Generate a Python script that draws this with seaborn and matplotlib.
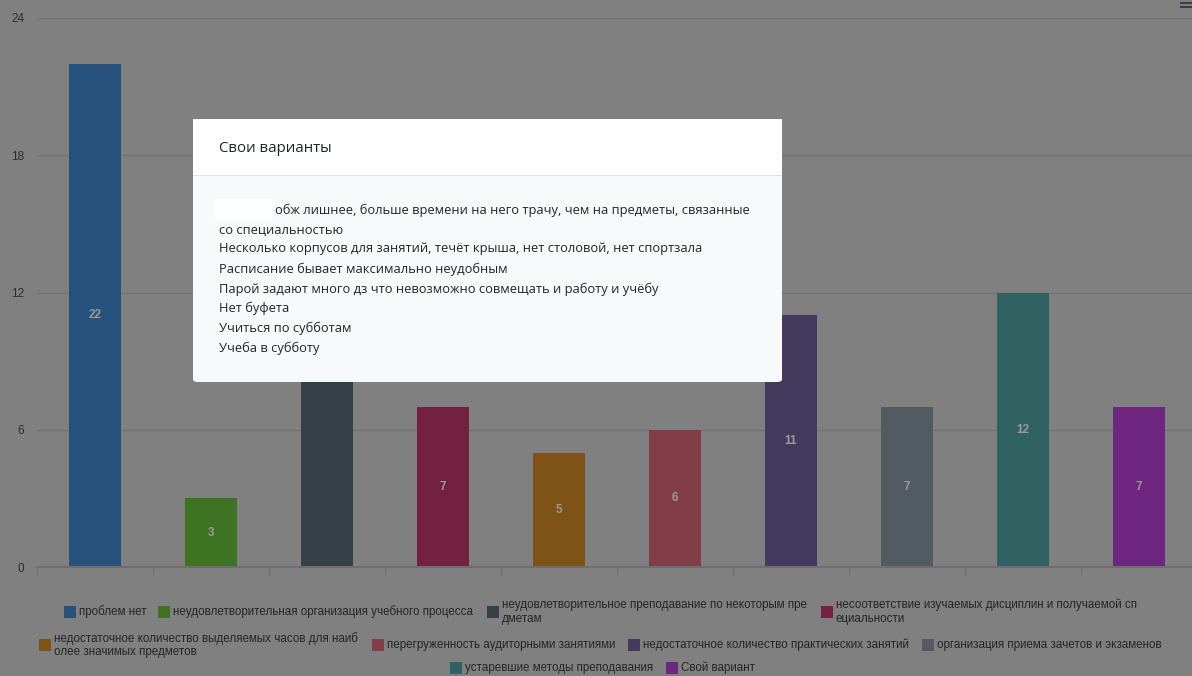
import matplotlib
matplotlib.use("Agg")
import matplotlib.pyplot as plt
import seaborn as sns
import pandas as pd
from matplotlib.patches import Rectangle, FancyBboxPatch

categories = [
    "проблем нет",
    "неудовлетворительная организация учебного процесса",
    "неудовлетворительное преподавание по некоторым пре\nдметам",
    "несоответствие изучаемых дисциплин и получаемой сп\nециальности",
    "недостаточное количество выделяемых часов для наиб\nолее значимых предметов",
    "перегруженность аудиторными занятиями",
    "недостаточное количество практических занятий",
    "организация приема зачетов и экзаменов",
    "устаревшие методы преподавания",
    "Свой вариант",
]
# third value is hidden behind the modal, estimated
counts = [22, 3, 18, 7, 5, 6, 11, 7, 12, 7]
# colours as they look under the dark overlay
colors = ["#27527e", "#3e7324", "#364046", "#74203f", "#7f5216",
          "#813e49", "#433a5e", "#525a62", "#2f6260", "#6f2680"]
yticks = [0, 6, 12, 18, 24]

modal_title = "Свои варианты"
modal_lines = [
    "обж лишнее, больше времени на него трачу, чем на предметы, связанные",
    "со специальностью",
    "Несколько корпусов для занятий, течёт крыша, нет столовой, нет спортзала",
    "Расписание бывает максимально неудобным",
    "Парой задают много дз что невозможно совмещать и работу и учёбу",
    "Нет буфета",
    "Учиться по субботам",
    "Учеба в субботу",
]

W, H = 1192, 676
df = pd.DataFrame({"cat": categories, "n": counts})

fig = plt.figure(figsize=(W / 100, H / 100), dpi=100, facecolor="#808080")
ax = fig.add_axes([36.7 / W, (H - 567) / H, 1160 / W, 549 / H])
ax.set_facecolor("#808080")

sns.barplot(data=df, x="cat", y="n", hue="cat", palette=colors,
            legend=False, width=0.45, ax=ax, saturation=1)
for c in ax.containers:
    ax.bar_label(c, label_type="center", color="#9a9a9a",
                 fontsize=8.5, fontweight="bold", family="Liberation Sans")

ax.set_ylim(0, 24)
ax.set_xlim(-0.5, len(categories) - 0.5)
ax.set_yticks(yticks)
ax.set_yticklabels([str(t) for t in yticks], family="Liberation Sans",
                   fontsize=8.5, color="#2e2e2e")
ax.tick_params(axis="y", length=0, pad=9)
ax.grid(axis="y", color="#737373", linewidth=1)
ax.set_axisbelow(True)
ax.set_xticks([i - 0.5 for i in range(len(categories) + 1)])
ax.set_xticklabels([])
ax.tick_params(axis="x", length=6, color="#737373", width=1)
ax.set_xlabel("")
ax.set_ylabel("")
for s in ["top", "right", "left"]:
    ax.spines[s].set_visible(False)
ax.spines["bottom"].set_color("#6e6e6e")
ax.spines["bottom"].set_linewidth(1.5)

# legend laid out by hand, in pixel coordinates
legend_pos = [(64, 612), (158, 612), (487, 612), (821, 612),
              (39, 645), (372, 645), (628, 645), (922, 645),
              (450, 668), (666, 668)]
for (px, py), lab, col in zip(legend_pos, categories, colors):
    fig.patches.append(Rectangle((px / W, 1 - (py + 6) / H), 12 / W, 12 / H,
                                 transform=fig.transFigure, facecolor=col,
                                 edgecolor="none"))
    fig.text((px + 15) / W, 1 - py / H, lab, family="Liberation Sans",
             fontsize=8.4, color="#262626", va="center", ha="left",
             linespacing=1.2)

# hamburger menu icon, top right
for yy in (2, 6):
    fig.patches.append(Rectangle((1180 / W, 1 - (yy + 1.5) / H), 12 / W, 1.5 / H,
                                 transform=fig.transFigure, facecolor="#3a3f46",
                                 edgecolor="none"))

# modal
mx0, my0, mx1, my1 = 193, 119, 782, 382
fig.patches.append(FancyBboxPatch((mx0 / W, 1 - my1 / H), (mx1 - mx0) / W, (my1 - my0) / H,
                                  boxstyle="round,pad=0,rounding_size=0.004",
                                  transform=fig.transFigure, facecolor="#f8f9fa",
                                  edgecolor="none", zorder=5))
fig.patches.append(Rectangle((mx0 / W, 1 - 175 / H), (mx1 - mx0) / W, 56 / H,
                             transform=fig.transFigure, facecolor="white",
                             edgecolor="none", zorder=6))
fig.patches.append(Rectangle((mx0 / W, 1 - 176 / H), (mx1 - mx0) / W, 1 / H,
                             transform=fig.transFigure, facecolor="#dee2e6",
                             edgecolor="none", zorder=7))
fig.text(219 / W, 1 - 148 / H, modal_title, family="Open Sans", fontsize=10.8,
         color="#212529", va="center", ha="left", zorder=8)
# redacted name box
fig.patches.append(Rectangle((214 / W, 1 - 219 / H), 58 / W, 20 / H,
                             transform=fig.transFigure, facecolor="white",
                             edgecolor="none", zorder=7))
line_y = [210, 230, 249, 269, 289, 308, 328, 348]
for i, (ln, yy) in enumerate(zip(modal_lines, line_y)):
    xx = 275 if i == 0 else 219
    fig.text(xx / W, 1 - yy / H, ln, family="Open Sans", fontsize=9.25,
             color="#212529", va="center", ha="left", zorder=8)

fig.savefig("out.png", dpi=100, facecolor=fig.get_facecolor())
